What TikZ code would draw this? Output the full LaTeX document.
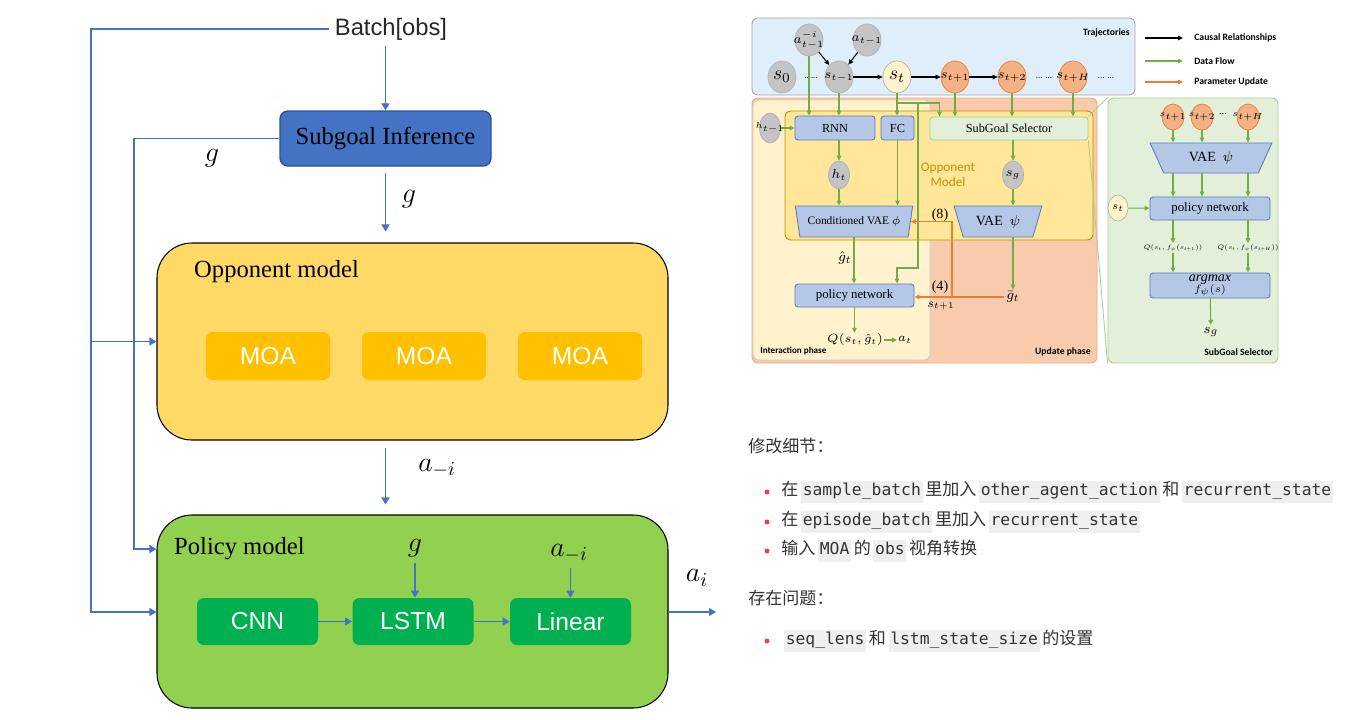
\RequirePackage{fix-cm}
\documentclass[tikz,border=0pt]{standalone}
\usepackage{fontspec}
\setmainfont{Liberation Serif}
\setsansfont{Liberation Sans}
\setmonofont{DejaVu Sans Mono}
\newfontfamily\cjkfont{Noto Sans CJK SC}
\newfontfamily\calfont{Carlito}
\usetikzlibrary{positioning, arrows.meta, shapes.geometric, calc}

\definecolor{flowblue}{HTML}{4472C4}
\definecolor{sgfill}{HTML}{4472C4}
\definecolor{sgdraw}{HTML}{2F528F}
\definecolor{oppfill}{HTML}{FFD966}
\definecolor{moafill}{HTML}{FFC000}
\definecolor{polfill}{HTML}{92D050}
\definecolor{layfill}{HTML}{00B050}
\definecolor{trajfill}{HTML}{DEEFFB}
\definecolor{updfill}{HTML}{F8CBAD}
\definecolor{updline}{HTML}{F4A97A}
\definecolor{intfill}{HTML}{FFF2CC}
\definecolor{omfill}{HTML}{FFE699}
\definecolor{omline}{HTML}{BF9000}
\definecolor{netfill}{HTML}{B4C7E7}
\definecolor{netline}{HTML}{5B7DB8}
\definecolor{selfill}{HTML}{E2F0D9}
\definecolor{selline}{HTML}{A9D18E}
\definecolor{dataflow}{HTML}{70AD47}
\definecolor{paramup}{HTML}{ED7D31}
\definecolor{grayball}{HTML}{C4C4C4}
\definecolor{orangeball}{HTML}{F4B183}
\definecolor{codebg}{HTML}{EFEFEF}
\definecolor{notetext}{HTML}{333333}
\definecolor{dotred}{HTML}{E8414A}

\newcommand{\codebox}[1]{\hspace{1.5pt}{\setlength{\fboxsep}{1pt}\colorbox{codebg}{\ttfamily\fontsize{9.3}{11}\selectfont\strut #1}}\hspace{1.5pt}}
\newcommand{\balltext}[1]{\makebox[0pt]{#1}}

\begin{document}
\begin{tikzpicture}
[
    x=0.2mm, y=-0.2mm,
    flow/.style={draw=flowblue, line width=0.75pt, -{Triangle[length=1.4mm, width=1.6mm]}},
    sg_node/.style={rectangle, rounded corners=1.6mm, draw=sgdraw, fill=sgfill, line width=0.8pt, minimum width=42.2mm, minimum height=11mm, font=\fontsize{14}{16}\selectfont},
    big_node/.style={rectangle, rounded corners=7mm, draw=black, line width=0.6pt, minimum width=102.2mm},
    moa_node/.style={rectangle, rounded corners=1.4mm, fill=moafill, text=white, minimum width=24.8mm, minimum height=9.6mm, font=\sffamily\fontsize{14}{16}\selectfont},
    layer_node/.style={moa_node, fill=layfill, minimum width=24.2mm, minimum height=9.4mm},
    title_node/.style={anchor=west, font=\fontsize{14}{16}\selectfont},
    math_node/.style={font=\fontsize{16}{18}\selectfont},
    panel/.style={rectangle, rounded corners=1.2mm, line width=0.5pt, inner sep=0pt},
    ball/.style={ellipse, draw=black!30, fill=grayball, line width=0.4pt, minimum width=5.6mm, minimum height=6.4mm, inner sep=0pt, font=\fontsize{7.5}{9}\selectfont},
    orange_ball/.style={ball, fill=orangeball, draw=paramup},
    net_node/.style={rectangle, rounded corners=0.6mm, draw=netline, fill=netfill, line width=0.5pt, inner sep=0pt, font=\fontsize{7}{8}\selectfont},
    vae_node/.style={trapezium, shape border rotate=180, trapezium stretches=true, draw=netline, fill=netfill, line width=0.5pt, inner sep=0pt, font=\fontsize{6.5}{7.5}\selectfont},
    causal/.style={draw=black, line width=0.6pt, -{Triangle[length=1mm, width=0.9mm]}},
    data/.style={draw=dataflow, line width=0.6pt, -{Triangle[length=1mm, width=0.9mm]}},
    param/.style={draw=paramup, line width=0.7pt, -{Triangle[length=1mm, width=0.9mm]}},
    zoomline/.style={draw=selline, line width=0.5pt},
    tag_node/.style={inner sep=0pt, font=\calfont\bfseries\fontsize{5.5}{6}\selectfont},
    legend_node/.style={anchor=west, inner xsep=2.2mm, font=\calfont\bfseries\fontsize{5.5}{6}\selectfont},
    small_math/.style={inner sep=1pt, font=\fontsize{8}{9}\selectfont},
    tiny_math/.style={inner sep=0.5pt, font=\fontsize{3.7}{4.5}\selectfont},
    note_node/.style={anchor=west, inner sep=0pt, text=notetext, font=\cjkfont\fontsize{9.7}{11}\selectfont},
    dot_node/.style={circle, fill=dotred, minimum size=1mm, inner sep=0pt},
]
    \path[use as bounding box, fill=white] (0,0) rectangle (1345,719);

    % left: subgoal pipeline
    \node[text=black!85, font=\sffamily\fontsize{13.5}{15}\selectfont] (batch) at (391,29) {Batch[obs]};
    \node[sg_node] (sgi) at (385.5,138.5) {Subgoal Inference};
    \node[big_node, fill=oppfill, minimum height=39.4mm] (opp) at (412.5,341.5) {};
    \node[title_node] (oppname) at (188,272) {Opponent model};
    \node[moa_node] (moa1) at (268,356) {MOA};
    \node[moa_node] (moa2) at (424,356) {MOA};
    \node[moa_node] (moa3) at (580,356) {MOA};
    \node[big_node, fill=polfill, minimum height=38.6mm] (pol) at (412.5,611.5) {};
    \node[title_node] (polname) at (168,549) {Policy model};
    \node[layer_node] (cnn) at (257.5,621.5) {CNN};
    \node[layer_node] (lstm) at (413,621.5) {LSTM};
    \node[layer_node] (linear) at (570.5,621.5) {Linear};
    \node[math_node] (g1) at (212,158) {$g$};
    \node[math_node] (g2) at (409,199) {$g$};
    \node[math_node] (am1) at (437,468) {$a_{-i}$};
    \node[math_node] (g3) at (415,548) {$g$};
    \node[math_node] (am2) at (569,553) {$a_{-i}$};
    \node[math_node] (ai) at (697,578) {$a_i$};
    \coordinate (outer) at (91,612);
    \coordinate (inner) at (134,549);
    \coordinate (aout) at (716,612);

    \draw[flow] (batch.south -| sgi.north) -- (sgi.north);
    \draw[flow] (batch.west) -| (outer) -- (pol.west |- outer);
    \draw[flow] (outer |- opp.west) -- (opp.west);
    \draw[flow] (sgi.west) -| (inner) -- (pol.west |- inner);
    \draw[flow, shorten <=1.2mm, shorten >=2.2mm] (sgi.south) -- (sgi.south |- opp.north);
    \draw[flow, shorten <=1.4mm, shorten >=2mm] (sgi.south |- opp.south) -- (sgi.south |- pol.north);
    \draw[flow] (g3.south) -- (g3.south |- lstm.north);
    \draw[flow] (am2.south -| linear.north) -- (linear.north);
    \draw[flow] (cnn) -- (lstm);
    \draw[flow] (lstm) -- (linear);
    \draw[flow] (pol.east |- outer) -- (aout);

    % right: framework figure
    \node[panel, fill=trajfill, draw=black!35, minimum width=76.6mm, minimum height=15.4mm] (traj) at (943.5,56.5) {};
    \node[tag_node, anchor=east] (trajname) at (1130,33) {Trajectories};
    \node[panel, fill=updfill, draw=updline, minimum width=69mm, minimum height=53mm] (upd) at (924.5,230.5) {};
    \node[panel, fill=intfill, draw=black!20, minimum width=35.4mm, minimum height=52mm] (inter) at (841.5,230) {};
    \node[panel, fill=omfill, draw=omline, minimum width=61.6mm, minimum height=25.8mm] (om) at (939,175.5) {};
    \node[panel, fill=selfill, draw=selline, minimum width=34mm, minimum height=53mm] (selpanel) at (1193,230.5) {};
    \node[tag_node, anchor=west, font=\calfont\bfseries\fontsize{5.2}{6}\selectfont] (intername) at (760,351) {Interaction phase};
    \node[tag_node, anchor=east] (updname) at (1091,352) {Update phase};
    \node[tag_node, anchor=east] (selname) at (1273,352) {SubGoal Selector};

    \node[ball] (am) at (809,40) {\balltext{$a_{t-1}^{-i}$}};
    \node[ball] (aa) at (867,40) {\balltext{$a_{t-1}$}};
    \node[ball, font=\fontsize{11}{12}\selectfont] (s0) at (782,77) {\balltext{$s_0$}};
    \node[ball] (sm) at (839,77) {\balltext{$s_{t-1}$}};
    \node[ball, fill=intfill, font=\fontsize{11}{12}\selectfont] (st) at (897,77) {\balltext{$s_t$}};
    \node[orange_ball] (sp1) at (955,77) {\balltext{$s_{t+1}$}};
    \node[orange_ball] (sp2) at (1012,77) {\balltext{$s_{t+2}$}};
    \node[orange_ball] (sph) at (1073,77) {\balltext{$s_{t+H}$}};
    \node[font=\fontsize{5}{6}\selectfont] (d1) at (811,78) {......};
    \node[font=\fontsize{5}{6}\selectfont] (d2) at (1044,78) {... ...};
    \node[font=\fontsize{5}{6}\selectfont] (d3) at (1106,78) {... ...};
    \draw[causal] (am) -- (sm);
    \draw[causal] (aa) -- (sm);
    \draw[causal] (sm) -- (st);
    \draw[causal] (st) -- (sp1);
    \draw[causal] (sp1) -- (sp2);

    % legend
    \coordinate (lg1) at (1145,38);
    \coordinate (lg2) at (1145,61);
    \coordinate (lg3) at (1145,82);
    \node[legend_node] (lgc) at (1183,38) {Causal Relationships};
    \node[legend_node] (lgd) at (1183,61) {Data Flow};
    \node[legend_node] (lgp) at (1183,82) {Parameter Update};
    \draw[causal] (lg1) -- (lgc.west);
    \draw[data] (lg2) -- (lgd.west);
    \draw[param] (lg3) -- (lgp.west);

    % opponent model part
    \node[ball, minimum width=4.2mm, minimum height=6mm, font=\fontsize{5}{6}\selectfont] (hm) at (770,128) {\balltext{$h_{t-1}$}};
    \node[net_node, minimum width=16mm, minimum height=4.8mm] (rnn) at (835,128) {RNN};
    \node[net_node, minimum width=6.6mm, minimum height=4.8mm] (fc) at (897.5,128) {FC};
    \node[net_node, fill=selfill, draw=selline, minimum width=31.6mm, minimum height=4.6mm] (ssel) at (1009,128.5) {SubGoal Selector};
    \node[ball, minimum width=4.2mm, minimum height=5.6mm] (ht) at (839,175) {\balltext{$h_t$}};
    \node[align=center, text=omline, font=\calfont\fontsize{7.5}{8.5}\selectfont] (omname) at (948,175) {Opponent\\Model};
    \node[ball, minimum width=4.2mm, minimum height=5.6mm] (sgb) at (1013,175) {\balltext{$s_g$}};
    \node[vae_node, minimum width=23.6mm, minimum height=6.2mm, trapezium angle=69] (cvae) at (854,221.5) {Conditioned VAE $\phi$};
    \node[vae_node, minimum width=17.6mm, minimum height=6.2mm, trapezium angle=65, font=\fontsize{8}{9}\selectfont] (vpsi) at (998,221.5) {VAE\ \ $\psi$};
    \node[small_math] (n8) at (940,215) {(8)};
    \node[small_math] (ghat) at (845,258) {$\hat g_t$};
    \node[net_node, minimum width=23.8mm, minimum height=4.6mm, font=\fontsize{7.3}{8}\selectfont] (pnet) at (854.5,295.5) {policy network};
    \node[small_math] (n4) at (940,287) {(4)};
    \node[small_math, font=\fontsize{7}{8}\selectfont] (snext) at (941,306) {$s_{t+1}$};
    \node[small_math] (gbar) at (1013,297) {$\bar g_t$};
    \node[small_math, inner sep=0.5pt, font=\fontsize{6.8}{8}\selectfont] (qhat) at (855,340) {$Q(s_t,\hat g_t)$};
    \node[small_math, inner sep=0.5pt, font=\fontsize{6.8}{8}\selectfont] (atl) at (905,340) {$a_t$};
    \coordinate (stsplit) at (897,103);
    \coordinate (stbend) at (918,268);
    \coordinate (pbr) at (952,297);

    \draw[data] (am) -- (am |- rnn.north);
    \draw[data] (sm) -- (sm |- rnn.north);
    \draw[data] (st) -- (st |- fc.north);
    \draw[data] (stsplit) -| ($(ssel.north west)+(10,0)$);
    \draw[data] (stsplit) -| (stbend) -| (pnet.north -| st);
    \draw[data] (sp1) -- (sp1 |- ssel.north);
    \draw[data] (sp2) -- (sp2 |- ssel.north);
    \draw[data] (sph) -- (sph |- ssel.north);
    \draw[data] (hm) -- (rnn);
    \draw[data] (ht |- rnn.south) -- (ht);
    \draw[data] (ht) -- (ht |- cvae.north);
    \draw[data] (fc) -- (fc |- cvae.north);
    \draw[data] (sgb |- ssel.south) -- (sgb);
    \draw[data] (sgb) -- (sgb |- vpsi.north);
    \draw[data] (cvae.south) -- (cvae.south |- pnet.north);
    \draw[data] (sgb |- vpsi.south) -- (gbar);
    \draw[data] (pnet.south) -- (pnet.south |- qhat.north);
    \draw[data] (qhat) -- (atl);
    \draw[param] (gbar) -- (pnet.east |- gbar);
    \draw[param] (pbr) |- (cvae.east);
    \draw[zoomline] (ssel.north east) -- (selpanel.north west);
    \draw[zoomline] (ssel.south east) -- (selpanel.south west);

    % subgoal selector part
    \node[orange_ball, minimum width=4.4mm, minimum height=5.2mm, font=\fontsize{5}{6}\selectfont] (q1) at (1173,117) {\balltext{$s_{t+1}$}};
    \node[orange_ball, minimum width=4.4mm, minimum height=5.2mm, font=\fontsize{5}{6}\selectfont] (q2) at (1202,117) {\balltext{$s_{t+2}$}};
    \node[font=\fontsize{6}{7}\selectfont] (qd) at (1223,114) {...};
    \node[orange_ball, minimum width=4.4mm, minimum height=5.2mm, font=\fontsize{5}{6}\selectfont] (qh) at (1248,117) {\balltext{$s_{t+H}$}};
    \node[vae_node, minimum width=24.4mm, minimum height=6mm, trapezium angle=63, font=\fontsize{8}{9}\selectfont] (vae2) at (1211,158) {VAE\ \ $\psi$};
    \node[net_node, minimum width=24mm, minimum height=4.6mm, font=\fontsize{7.3}{8}\selectfont] (pn2) at (1210,208.5) {policy network};
    \node[ball, fill=intfill, minimum width=4mm, minimum height=5.2mm, font=\fontsize{6}{7}\selectfont] (st2) at (1118,208) {\balltext{$s_t$}};
    \node[tiny_math] (qv1) at (1173,248) {$Q(s_t,f_\psi(s_{t+1}))$};
    \node[tiny_math] (qv2) at (1248,248) {$Q(s_t,f_\psi(s_{t+H}))$};
    \node[net_node, minimum width=24mm, minimum height=5mm, align=center] (amax) at (1210,285.5) {{\fontsize{8}{8}\selectfont\itshape argmax}\\[-1.5pt]{\fontsize{6}{6}\selectfont$f_\psi(s)$}};
    \node[small_math] (sg2) at (1211,332) {$s_g$};
    \draw[data] (q1) -- (q1 |- vae2.north);
    \draw[data] (q2) -- (q2 |- vae2.north);
    \draw[data] (qh) -- (qh |- vae2.north);
    \draw[data] (q1 |- vae2.south) -- (q1 |- pn2.north);
    \draw[data] (q2 |- vae2.south) -- (q2 |- pn2.north);
    \draw[data] (qh |- vae2.south) -- (qh |- pn2.north);
    \draw[data] (st2) -- (pn2);
    \draw[data] (q1 |- pn2.south) -- (qv1);
    \draw[data] (qh |- pn2.south) -- (qv2);
    \draw[data] (qv1) -- (qv1 |- amax.north);
    \draw[data] (qv2) -- (qv2 |- amax.north);
    \draw[data] (amax) -- (sg2);

    % notes
    \node[note_node] (h1) at (748,446) {修改细节：};
    \node[dot_node] (b1) at (767,492) {};
    \node[note_node] (t1) at (781,492) {在\codebox{sample\_batch}里加入\codebox{other\_agent\_action}和\codebox{recurrent\_state}};
    \node[dot_node] (b2) at (767,522) {};
    \node[note_node] (t2) at (781,522) {在\codebox{episode\_batch}里加入\codebox{recurrent\_state}};
    \node[dot_node] (b3) at (767,551) {};
    \node[note_node] (t3) at (781,551) {输入\codebox{MOA}的\codebox{obs}视角转换};
    \node[note_node] (h2) at (748,598) {存在问题：};
    \node[dot_node] (b4) at (767,641) {};
    \node[note_node] (t4) at (781,641) {\codebox{seq\_lens}和\codebox{lstm\_state\_size}的设置};
\end{tikzpicture}
\end{document}
